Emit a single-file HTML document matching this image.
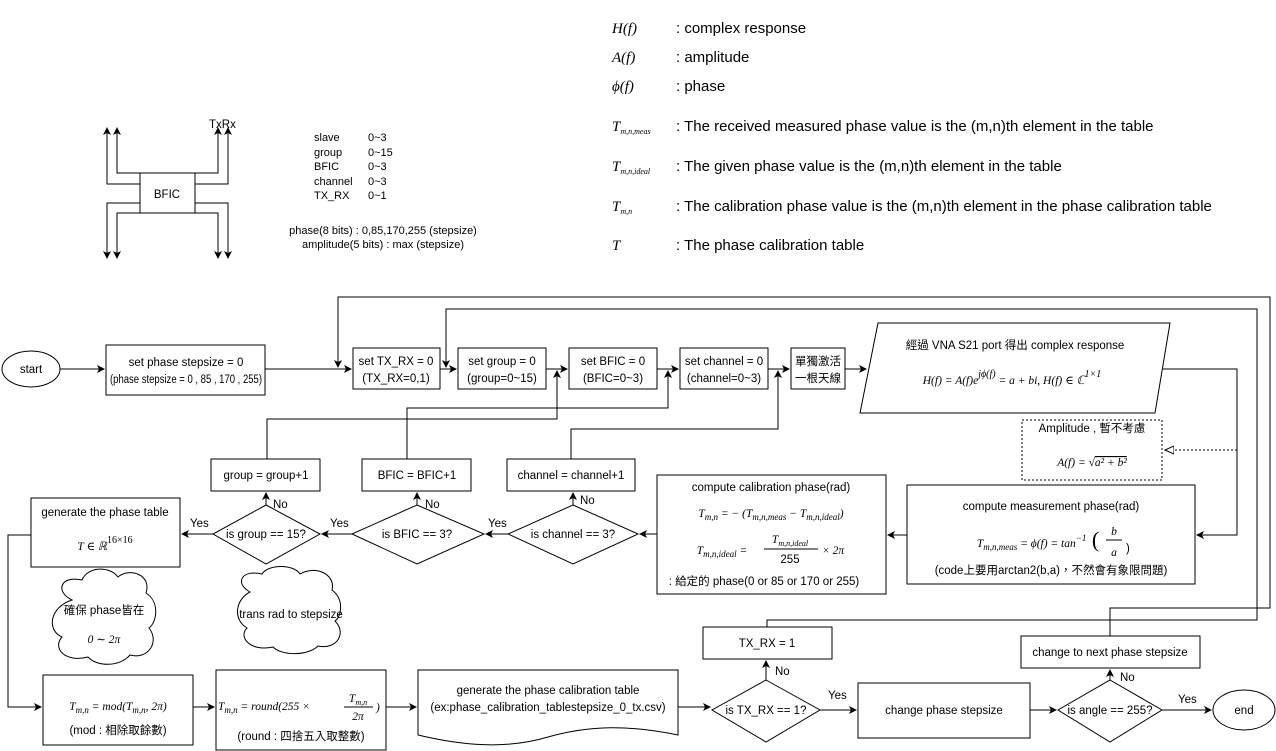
<!DOCTYPE html>
<html><head><meta charset="utf-8"><style>
html,body{margin:0;padding:0;background:#fff;}
svg{display:block;}
text{font-family:"Liberation Sans","Noto Sans CJK TC",sans-serif;font-size:11.5px;fill:#000;}
.m{font-family:"Liberation Serif","DejaVu Serif",serif;font-style:italic;}
.l{font-size:15px;}
.s{font-size:11px;}
</style></head><body>
<svg width="1276" height="751" viewBox="0 0 1276 751" xmlns="http://www.w3.org/2000/svg">
<defs>
<marker id="a" markerWidth="8" markerHeight="8" refX="7" refY="4" orient="auto" markerUnits="userSpaceOnUse"><path d="M0,0 L8,4 L0,8 L2,4 Z" fill="#000"/></marker>
<marker id="o" markerWidth="10" markerHeight="10" refX="9" refY="5" orient="auto" markerUnits="userSpaceOnUse"><path d="M0,1 L9,5 L0,9 Z" fill="#fff" stroke="#000"/></marker>
</defs>
<g fill="none" stroke="#000" stroke-width="1">
<rect x="140" y="173" width="55" height="40"/>
<path d="M140,184 H107 V128" marker-end="url(#a)"/>
<path d="M140,173 H117 V128" marker-end="url(#a)"/>
<path d="M195,173 H218 V128" marker-end="url(#a)"/>
<path d="M195,184 H228 V128" marker-end="url(#a)"/>
<path d="M140,203 H107 V258" marker-end="url(#a)"/>
<path d="M140,213 H117 V258" marker-end="url(#a)"/>
<path d="M195,213 H218 V258" marker-end="url(#a)"/>
<path d="M195,203 H228 V258" marker-end="url(#a)"/>

<ellipse cx="31" cy="369" rx="29" ry="18"/>
<path d="M60,369 H104" marker-end="url(#a)"/>
<rect x="106" y="345" width="159" height="50"/>
<path d="M265,369 H351" marker-end="url(#a)"/>
<rect x="353" y="348" width="87" height="41"/>
<path d="M440,369 H456" marker-end="url(#a)"/>
<rect x="458" y="348" width="88" height="41"/>
<path d="M546,369 H567" marker-end="url(#a)"/>
<rect x="569" y="348" width="88" height="41"/>
<path d="M657,369 H678" marker-end="url(#a)"/>
<rect x="680" y="348" width="88" height="41"/>
<path d="M768,369 H789" marker-end="url(#a)"/>
<rect x="791" y="348" width="54" height="41"/>
<path d="M845,369 H866" marker-end="url(#a)"/>
<path d="M878,323 H1170 L1155,413 H860 Z"/>
<path d="M1163,369 H1237 V535 H1197" marker-end="url(#a)"/>
<path d="M1237,450 H1165" stroke-dasharray="2,2" marker-end="url(#o)"/>
<rect x="1022" y="420" width="140" height="60" stroke-dasharray="2,2"/>
<rect x="907" y="485" width="288" height="99"/>
<path d="M907,535 H888" marker-end="url(#a)"/>
<rect x="657" y="475" width="229" height="119"/>
<path d="M657,534 H640" marker-end="url(#a)"/>
<path d="M573,505 L638,534 L573,564 L508,534 Z"/>
<path d="M508,534 H486" marker-end="url(#a)"/>
<path d="M417,505 L484,534 L417,564 L352,534 Z"/>
<path d="M352,534 H322" marker-end="url(#a)"/>
<path d="M266,505 L320,534 L266,564 L213,534 Z"/>
<path d="M213,534 H182" marker-end="url(#a)"/>
<rect x="31" y="498" width="149" height="69"/>
<path d="M573,505 V493" marker-end="url(#a)"/>
<path d="M417,505 V493" marker-end="url(#a)"/>
<path d="M266,505 V493" marker-end="url(#a)"/>
<rect x="507" y="459" width="128" height="32"/>
<rect x="362" y="459" width="109" height="32"/>
<rect x="211" y="459" width="109" height="32"/>
<path d="M267,459 V419 H557 V371" marker-end="url(#a)"/>
<path d="M407,459 V408 H668 V371" marker-end="url(#a)"/>
<path d="M571,459 V429 H778 V371" marker-end="url(#a)"/>
<path d="M767,627 V620 H1257 V309 H446 V367" marker-end="url(#a)"/>
<path d="M1110,636 V608 H1270 V297 H338 V367" marker-end="url(#a)"/>
<path d="M31,535 H8 V707 H41" marker-end="url(#a)"/>
<rect x="43" y="675" width="150" height="70"/>
<path d="M193,707 H214" marker-end="url(#a)"/>
<rect x="216" y="670" width="170" height="80"/>
<path d="M386,707 H416" marker-end="url(#a)"/>
<path d="M418,670 H678 V735 C630,725 590,725 548,737 C505,750 460,745 418,735 Z"/>
<path d="M678,707 H710" marker-end="url(#a)"/>
<path d="M766,680 L820,710 L766,742 L712,710 Z"/>
<path d="M766,680 V661" marker-end="url(#a)"/>
<rect x="703" y="627" width="129" height="32"/>
<path d="M820,710 H856" marker-end="url(#a)"/>
<rect x="858" y="683" width="172" height="55"/>
<path d="M1030,710 H1056" marker-end="url(#a)"/>
<path d="M1110,680 L1162,710 L1110,742 L1058,710 Z"/>
<path d="M1110,680 V670" marker-end="url(#a)"/>
<rect x="1021" y="636" width="179" height="32"/>
<path d="M1162,710 H1211" marker-end="url(#a)"/>
<ellipse cx="1244" cy="710" rx="31" ry="20"/>
<path d="M72,600 C55,592 60,575 82,580 C88,566 110,566 118,577 C130,567 152,575 146,593 C160,602 157,622 149,628 C160,642 148,660 130,655 C120,667 97,667 88,657 C65,663 52,648 62,637 C46,630 50,607 72,600 Z"/>
<path d="M250,592 C234,583 242,569 262,574 C268,564 294,564 300,574 C315,565 336,574 332,590 C345,600 341,617 335,621 C347,633 337,650 318,646 C308,656 282,656 273,647 C250,652 238,637 247,628 C232,619 236,599 250,592 Z"/>
</g>

<text class="m l" x="612" y="33" font-size="16">H(f)</text><text class="l" x="676" y="33">: complex response</text>
<text class="m l" x="612" y="62" font-size="16">A(f)</text><text class="l" x="676" y="62">: amplitude</text>
<text class="m l" x="612" y="91" font-size="16">ϕ(f)</text><text class="l" x="676" y="91">: phase</text>
<text class="m l" x="612" y="131">T<tspan font-size="8" dy="3">m,n,meas</tspan></text><text class="l" x="676" y="131">: The received measured phase value is the (m,n)th element in the table</text>
<text class="m l" x="612" y="171">T<tspan font-size="8" dy="3">m,n,ideal</tspan></text><text class="l" x="676" y="171">: The given phase value is the (m,n)th element in the table</text>
<text class="m l" x="612" y="211">T<tspan font-size="8" dy="3">m,n</tspan></text><text class="l" x="676" y="211">: The calibration phase value is the (m,n)th element in the phase calibration table</text>
<text class="m l" x="612" y="250">T</text><text class="l" x="676" y="250">: The phase calibration table</text>

<text x="209" y="128">TxRx</text>
<text x="167" y="198" text-anchor="middle">BFIC</text>
<text class="s" x="314" y="141">slave</text><text class="s" x="368" y="141">0~3</text>
<text class="s" x="314" y="156">group</text><text class="s" x="368" y="156">0~15</text>
<text class="s" x="314" y="170">BFIC</text><text class="s" x="368" y="170">0~3</text>
<text class="s" x="314" y="185">channel</text><text class="s" x="368" y="185">0~3</text>
<text class="s" x="314" y="199">TX_RX</text><text class="s" x="368" y="199">0~1</text>
<text class="s" x="383" y="234" text-anchor="middle">phase(8 bits) : 0,85,170,255 (stepsize)</text>
<text class="s" x="383" y="248" text-anchor="middle">amplitude(5 bits) : max (stepsize)</text>

<text x="31" y="373" text-anchor="middle">start</text>
<text x="186" y="366" text-anchor="middle">set phase stepsize = 0</text>
<text x="186" y="383" text-anchor="middle" textLength="152" lengthAdjust="spacingAndGlyphs">(phase stepsize = 0 , 85 , 170 , 255)</text>
<text x="396" y="365" text-anchor="middle">set TX_RX = 0</text>
<text x="396" y="382" text-anchor="middle">(TX_RX=0,1)</text>
<text x="502" y="365" text-anchor="middle">set group = 0</text>
<text x="502" y="382" text-anchor="middle">(group=0~15)</text>
<text x="613" y="365" text-anchor="middle">set BFIC = 0</text>
<text x="613" y="382" text-anchor="middle">(BFIC=0~3)</text>
<text x="724" y="365" text-anchor="middle">set channel = 0</text>
<text x="724" y="382" text-anchor="middle">(channel=0~3)</text>
<text x="818" y="365" text-anchor="middle">單獨激活</text>
<text x="818" y="382" text-anchor="middle">一根天線</text>
<text x="1015" y="349" text-anchor="middle">經過 VNA S21 port 得出 complex response</text>
<text class="m" x="1012" y="384" text-anchor="middle" font-size="17">H(f) = A(f)e<tspan font-size="10" dy="-7">jϕ(f)</tspan><tspan dy="7"> = a + bi, H(f) ∈ ℂ</tspan><tspan font-size="10" dy="-7">1×1</tspan></text>
<text x="1092" y="432" text-anchor="middle">Amplitude , 暫不考慮</text>
<text class="m" x="1092" y="466" text-anchor="middle" font-size="15">A(f) = √<tspan text-decoration="overline">a² + b²</tspan></text>
<text x="1051" y="510" text-anchor="middle">compute measurement phase(rad)</text>
<text class="m" x="1038" y="547" text-anchor="middle" font-size="15">T<tspan font-size="9" dy="3">m,n,meas</tspan><tspan dy="-3"> = ϕ(f) = tan</tspan><tspan font-size="9" dy="-6">−1</tspan><tspan dy="6" font-size="22" font-style="normal"> (</tspan></text>
<text class="m" x="1114" y="535" text-anchor="middle" font-size="14">b</text>
<line x1="1106" y1="540" x2="1122" y2="540" stroke="#000"/>
<text class="m" x="1114" y="556" text-anchor="middle" font-size="14">a</text>
<text x="1126" y="552" font-size="22">)</text>
<text x="1051" y="574" text-anchor="middle">(code上要用arctan2(b,a)，不然會有象限問題)</text>
<text x="771" y="491" text-anchor="middle">compute calibration phase(rad)</text>
<text class="m" x="771" y="517" text-anchor="middle" font-size="15">T<tspan font-size="9" dy="3">m,n</tspan><tspan dy="-3"> = − (T</tspan><tspan font-size="9" dy="3">m,n,meas</tspan><tspan dy="-3"> − T</tspan><tspan font-size="9" dy="3">m,n,ideal</tspan><tspan dy="-3">)</tspan></text>
<text class="m" x="722" y="554" text-anchor="middle" font-size="15">T<tspan font-size="9" dy="3">m,n,ideal</tspan><tspan dy="-3"> =</tspan></text>
<text class="m" x="790" y="543" text-anchor="middle" font-size="13">T<tspan font-size="8" dy="3">m,n,ideal</tspan></text>
<line x1="764" y1="549" x2="818" y2="549" stroke="#000"/>
<text x="790" y="563" text-anchor="middle" font-size="13" font-family="Liberation Serif">255</text>
<text class="m" x="822" y="554" font-size="14">× 2π</text>
<text x="764" y="585" text-anchor="middle">: 給定的 phase(0 or 85 or 170 or 255)</text>
<text x="571" y="479" text-anchor="middle">channel = channel+1</text>
<text x="417" y="479" text-anchor="middle">BFIC = BFIC+1</text>
<text x="266" y="479" text-anchor="middle">group = group+1</text>
<text x="573" y="538" text-anchor="middle">is channel == 3?</text>
<text x="417" y="538" text-anchor="middle">is BFIC == 3?</text>
<text x="266" y="538" text-anchor="middle">is group == 15?</text>
<text x="488" y="527">Yes</text><text x="330" y="527">Yes</text><text x="190" y="527">Yes</text>
<text x="580" y="504">No</text><text x="425" y="508">No</text><text x="273" y="508">No</text>
<text x="105" y="516" text-anchor="middle">generate the phase table</text>
<text class="m" x="105" y="550" text-anchor="middle" font-size="18">T ∈ ℝ<tspan font-size="10" dy="-7" font-style="normal">16×16</tspan></text>
<text x="104" y="614" text-anchor="middle">確保 phase皆在</text>
<text class="m" x="104" y="643" text-anchor="middle" font-size="13">0 ∼ 2π</text>
<text x="291" y="618" text-anchor="middle">trans rad to stepsize</text>
<text class="m" x="118" y="710" text-anchor="middle" font-size="15">T<tspan font-size="9" dy="3">m,n</tspan><tspan dy="-3"> = mod(T</tspan><tspan font-size="9" dy="3">m,n</tspan><tspan dy="-3">, 2π)</tspan></text>
<text x="118" y="734" text-anchor="middle">(mod : 相除取餘數)</text>
<text class="m" x="218" y="710" font-size="14">T<tspan font-size="9" dy="3">m,n</tspan><tspan dy="-3"> = round(255 ×</tspan></text>
<text class="m" x="358" y="702" text-anchor="middle" font-size="12">T<tspan font-size="8" dy="3">m,n</tspan></text>
<line x1="344" y1="707" x2="373" y2="707" stroke="#000"/>
<text class="m" x="358" y="720" text-anchor="middle" font-size="12">2π</text>
<text class="m" x="376" y="711" font-size="14">)</text>
<text x="301" y="740" text-anchor="middle">(round : 四捨五入取整數)</text>
<text x="548" y="694" text-anchor="middle">generate the phase calibration table</text>
<text x="548" y="711" text-anchor="middle">(ex:phase_calibration_tablestepsize_0_tx.csv)</text>
<text x="766" y="714" text-anchor="middle">is TX_RX == 1?</text>
<text x="767" y="647" text-anchor="middle">TX_RX = 1</text>
<text x="775" y="675">No</text>
<text x="828" y="699">Yes</text>
<text x="944" y="714" text-anchor="middle">change phase stepsize</text>
<text x="1110" y="714" text-anchor="middle">is angle == 255?</text>
<text x="1110" y="656" text-anchor="middle">change to next phase stepsize</text>
<text x="1120" y="681">No</text>
<text x="1178" y="703">Yes</text>
<text x="1244" y="714" text-anchor="middle">end</text>
</svg>
</body></html>
